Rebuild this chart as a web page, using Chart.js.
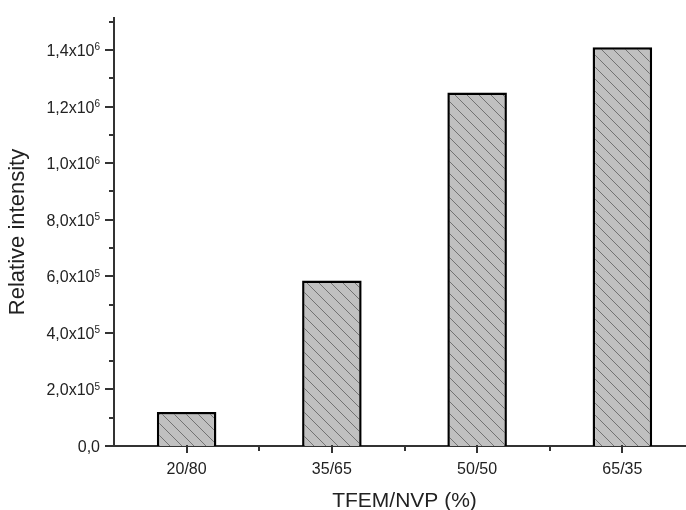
<!DOCTYPE html>
<html>
<head>
<meta charset="utf-8">
<script src="https://cdn.jsdelivr.net/npm/chart.js@4"></script>
<style>
  html, body { margin: 0; padding: 0; background: #fff; overflow: hidden; }
  #wrap { width: 700px; height: 510px; }
</style>
</head>
<body>
<div id="wrap"><canvas id="myChart" width="700" height="510"></canvas></div>
<script>
// data
const categories = ['20/80', '35/65', '50/50', '65/35'];
const intensity = [1.2e5, 5.85e5, 1.25e6, 1.41e6];

// y tick labels: mantissa + exponent (drawn as superscript)
const yTickValues = [0, 2e5, 4e5, 6e5, 8e5, 1e6, 1.2e6, 1.4e6];
const yTickMantissa = ['0,0', '2,0x10', '4,0x10', '6,0x10', '8,0x10', '1,0x10', '1,2x10', '1,4x10'];
const yTickExponent = ['', '5', '5', '5', '5', '6', '6', '6'];
const yMinorValues = [1e5, 3e5, 5e5, 7e5, 9e5, 1.1e6, 1.3e6, 1.5e6];

const FONT = '"Liberation Sans", Arial, sans-serif';
const AXIS = '#333';

// hatch pattern: grey fill with "\" lines
function hatch() {
  const c = document.createElement('canvas');
  c.width = 12; c.height = 12;
  const g = c.getContext('2d');
  g.fillStyle = '#c0c0c0';
  g.fillRect(0, 0, 12, 12);
  g.strokeStyle = '#727272';
  g.lineWidth = 1;
  g.beginPath();
  g.moveTo(-1, -1); g.lineTo(13, 13);
  g.moveTo(-1, 11); g.lineTo(1, 13);
  g.moveTo(11, -1); g.lineTo(13, 1);
  g.stroke();
  return g.createPattern(c, 'repeat');
}

// draws tick marks and y labels with superscript exponents
const axisDecor = {
  id: 'axisDecor',
  afterDraw(chart) {
    const ctx = chart.ctx;
    const x = chart.scales.x, y = chart.scales.y;
    const left = chart.chartArea.left, bottom = chart.chartArea.bottom;
    ctx.save();
    ctx.strokeStyle = AXIS;
    ctx.lineWidth = 2;
    ctx.beginPath();
    yTickValues.forEach(v => {
      const py = Math.round(y.getPixelForValue(v));
      ctx.moveTo(left - 9, py); ctx.lineTo(left + 1, py);
    });
    yMinorValues.forEach(v => {
      const py = Math.round(y.getPixelForValue(v));
      ctx.moveTo(left - 5, py); ctx.lineTo(left + 1, py);
    });
    categories.forEach((c, i) => {
      const px = Math.round(x.getPixelForValue(i));
      ctx.moveTo(px, bottom - 1); ctx.lineTo(px, bottom + 7);
      if (i < categories.length - 1) {
        const mx = Math.round((x.getPixelForValue(i) + x.getPixelForValue(i + 1)) / 2);
        ctx.moveTo(mx, bottom - 1); ctx.lineTo(mx, bottom + 5);
      }
    });
    ctx.stroke();

    ctx.fillStyle = '#222';
    const right = left - 14;
    yTickValues.forEach((v, i) => {
      const py = y.getPixelForValue(v);
      ctx.font = '16px ' + FONT;
      const w1 = ctx.measureText(yTickMantissa[i]).width;
      ctx.font = '10px ' + FONT;
      const w2 = yTickExponent[i] ? ctx.measureText(yTickExponent[i]).width : 0;
      ctx.textAlign = 'left';
      ctx.textBaseline = 'alphabetic';
      ctx.font = '16px ' + FONT;
      ctx.fillText(yTickMantissa[i], right - w1 - w2, py + 6);
      if (w2) {
        ctx.font = '10px ' + FONT;
        ctx.fillText(yTickExponent[i], right - w2, py + 0.5);
      }
    });
    ctx.restore();
  }
};

new Chart(document.getElementById('myChart'), {
  type: 'bar',
  data: {
    labels: categories,
    datasets: [{
      data: intensity,
      backgroundColor: hatch(),
      borderColor: '#000',
      borderWidth: 2.5,
      borderSkipped: 'bottom',
      barPercentage: 0.82,
      categoryPercentage: 0.5
    }]
  },
  options: {
    responsive: false,
    animation: false,
    layout: { padding: { top: 18, right: 5, left: 0, bottom: 0 } },
    plugins: {
      legend: { display: false },
      tooltip: { enabled: false }
    },
    scales: {
      x: {
        offset: true,
        grid: { display: false },
        border: { display: true, color: AXIS, width: 2 },
        ticks: { color: '#222', font: { family: FONT, size: 16 }, padding: 6, maxRotation: 0 },
        title: {
          display: true, text: 'TFEM/NVP (%)', color: '#222',
          font: { family: FONT, size: 21, lineHeight: 0.8 }, padding: { top: 0, bottom: 0 }
        },
        afterFit(s) { s.height = 64; }
      },
      y: {
        min: 0,
        max: 1.513e6,
        grid: { display: false },
        border: { display: true, color: AXIS, width: 2 },
        ticks: { display: false, stepSize: 1e5 },
        title: {
          display: true, text: 'Relative intensity', color: '#222',
          font: { family: FONT, size: 22, lineHeight: 1 }, padding: { top: 7, bottom: 0 }
        },
        afterFit(s) { s.width = 114; }
      }
    }
  },
  plugins: [axisDecor]
});
</script>
</body>
</html>
